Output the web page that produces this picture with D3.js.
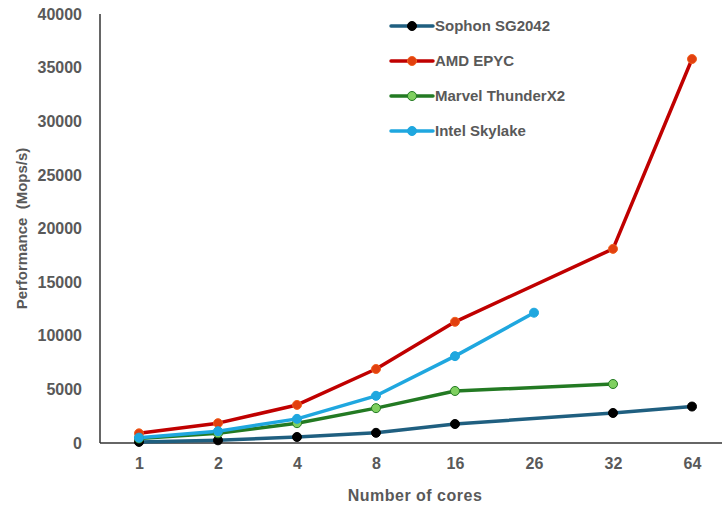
<!DOCTYPE html>
<html><head><meta charset="utf-8">
<script src="https://cdn.jsdelivr.net/npm/d3@7"></script>
<style>body{margin:0;background:#fff}svg{display:block}text{font-family:"Liberation Sans",Arial,sans-serif;font-weight:bold;fill:#595959}</style>
</head><body><svg id="c" width="722" height="506"></svg>
<script>
const categories = ["1","2","4","8","16","26","32","64"];
const yTicks = [0,5000,10000,15000,20000,25000,30000,35000,40000];
const seriesNames = ["Sophon SG2042","AMD EPYC","Marvel ThunderX2","Intel Skylake"];
const sophon = [100,250,560,950,1770,null,2800,3400];
const amd = [900,1850,3550,6900,11300,null,18100,35800];
const marvel = [420,900,1850,3250,4850,null,5500,null];
const intel = [500,1100,2250,4400,8100,12150,null,null];
const lineColors = ["#1f5f80","#c00000","#237a23","#1fa7df"];
const markerFill = ["#000000","#e2400f","#7fd060","#1fa7df"];
const markerStroke = ["#000000","#f06020","#237a23","#1fa7df"];

const svg = d3.select("#c");
const m = {l:100, r:0, t:14, b:63};
const W = 722, H = 506;
const x = d3.scalePoint().domain(categories).range([139, 692]);
const y = d3.scaleLinear().domain([0,40000]).range([443, 14]);

svg.append("line").attr("x1",m.l).attr("x2",m.l).attr("y1",y(40000)).attr("y2",y(0)).attr("stroke","#333").attr("stroke-width",1.5);
svg.append("line").attr("x1",m.l).attr("x2",W).attr("y1",y(0)).attr("y2",y(0)).attr("stroke","#333").attr("stroke-width",1.5);

const ya = svg.append("g").attr("transform",`translate(${m.l},0)`).call(d3.axisLeft(y).tickValues(yTicks).tickFormat(d3.format("d")).tickSize(0).tickPadding(18));
ya.select(".domain").remove();
ya.selectAll("text").style("font-size","16px").attr("fill","#595959").style("font-family","Liberation Sans, Arial, sans-serif").style("font-weight","bold");

const xa = svg.append("g").attr("transform",`translate(0,${y(0)})`).call(d3.axisBottom(x).tickSize(0).tickPadding(15));
xa.select(".domain").remove();
xa.selectAll("text").style("font-size","16px").attr("fill","#595959").style("font-family","Liberation Sans, Arial, sans-serif").style("font-weight","bold");

svg.append("text").attr("x",415).attr("y",501).attr("text-anchor","middle").style("font-size","16px").style("letter-spacing","0.5px").text("Number of cores");
svg.append("text").attr("transform",`translate(27,${(y(0)+y(40000))/2}) rotate(-90)`).attr("text-anchor","middle").style("font-size","15px").attr("xml:space","preserve").style("white-space","pre").text("Performance  (Mops/s)");

const data = [sophon, amd, marvel, intel];
const line = d3.line().x(d=>x(d.c)).y(d=>y(d.v));
data.forEach((vals,i)=>{
  const pts = categories.map((c,j)=>({c, v: vals[j]})).filter(d=>d.v!=null);
  svg.append("path").datum(pts).attr("d",line).attr("fill","none").attr("stroke",lineColors[i]).attr("stroke-width",3.5).attr("stroke-linejoin","round");
});
data.forEach((vals,i)=>{
  const pts = categories.map((c,j)=>({c, v: vals[j]})).filter(d=>d.v!=null);
  svg.selectAll(null).data(pts).enter().append("circle").attr("cx",d=>x(d.c)).attr("cy",d=>y(d.v)).attr("r",4.5)
    .attr("fill",markerFill[i]).attr("stroke",markerStroke[i]).attr("stroke-width",1);
});

const lg = svg.append("g");
seriesNames.forEach((n,i)=>{
  const yy = 26 + i*35;
  lg.append("line").attr("x1",391).attr("x2",433).attr("y1",yy).attr("y2",yy).attr("stroke",lineColors[i]).attr("stroke-width",3.5).attr("stroke-linecap","round");
  lg.append("circle").attr("cx",412).attr("cy",yy).attr("r",4.5).attr("fill",markerFill[i]).attr("stroke",markerStroke[i]).attr("stroke-width",1);
  lg.append("text").attr("x",435).attr("y",yy+5).style("font-size","15px").text(n);
});
</script></body></html>
